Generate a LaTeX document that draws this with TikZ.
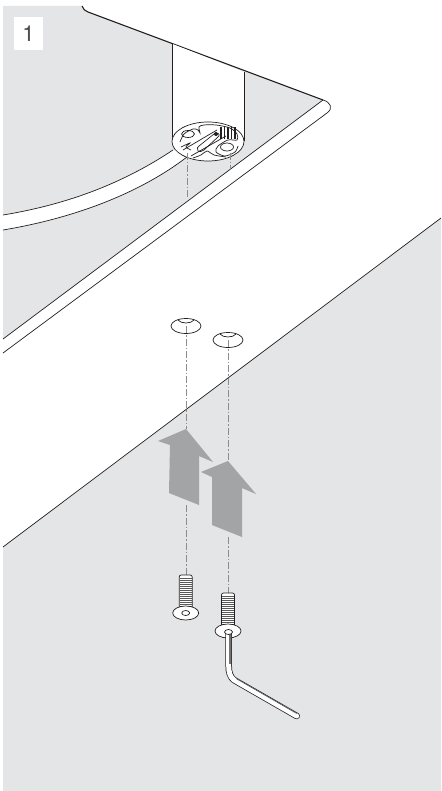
\documentclass[tikz,border=0pt]{standalone}
\usepackage{fontspec}
\setmainfont{TeX Gyre Heros}
\usepackage{xcolor}
\usetikzlibrary{positioning, arrows.meta}
\definecolor{PanelGrey}{HTML}{E4E5E7}
\definecolor{ArrowGrey}{HTML}{A3A4A6}
\definecolor{InkBlack}{HTML}{231F20}
\begin{document}
\begin{tikzpicture}[
            x=1pt, y=-1pt,
            edge/.style={draw=InkBlack, line width=0.7pt},
            heavy/.style={draw=InkBlack, line width=1.1pt},
            axisline/.style={draw=black!45, line width=0.6pt, dash pattern=on 7pt off 2pt on 1.5pt off 2pt},
            numbox/.style={fill=white, text=black!70, font=\fontsize{22}{22}\selectfont, minimum width=29pt, minimum height=33pt, inner sep=0pt},
            liftarrow/.style={fill=ArrowGrey, draw=none},
            thread/.style={draw=black!65, line width=1pt}
        ]
            \useasboundingbox (0,0) rectangle (441,791);

            % Grey panels
            \fill[PanelGrey] (3,6) -- (82,6) .. controls (83,9) and (85,11) .. (88,12) -- (323,100) -- (3,339) -- cycle;
            \fill[PanelGrey] (3,547) -- (441,218) -- (441,791) -- (3,791) -- cycle;
            \draw[edge] (3,547) -- (441,218);

            \node[numbox] (stepnum) at (28.5,33.5) {1};

            % Curved strip
            \fill[white] (3,215) .. controls (70,204) and (125,182) .. (173,150) -- (187,157) .. controls (140,193) and (75,218) .. (3,230) -- cycle;
            \draw[edge] (3,215) .. controls (70,204) and (125,182) .. (173,150);
            \draw[edge] (3,230) .. controls (75,218) and (140,193) .. (187,157);

            % Table edge
            \draw[heavy] (82,6) .. controls (83,9) and (85,11) .. (88,12) -- (323,100);
            \draw[edge] (323,100) .. controls (330,102) and (334,108) .. (327,113) -- (3,353);
            \draw[edge] (323,100) -- (3,339);

            % Leg
            \fill[white] (172.5,44) -- (244,72) -- (244,141) -- (172.5,141) -- cycle;
            \draw[edge] (172.5,44) -- (172.5,141);
            \draw[edge] (244,72) -- (244,141);
            \draw[edge, fill=white] (208,141.5) ellipse [x radius=36, y radius=19.5];

            % Leg fitting
            \draw[edge] plot[smooth] coordinates {(180,142) (184,134) (193,129) (198,130) (200,133) (199,127) (204,125) (216,125) (230,128) (237,134) (237,140) (228,140) (218,146) (216,152) (225,156) (235,152) (238,146)};
            \draw[edge] plot[smooth] coordinates {(181,147) (190,143) (186,147) (191,150)};
            \draw[edge] plot[smooth] coordinates {(193,158) (201,155) (207,151) (214,155) (226,157)};
            \draw[edge] (188,134) ellipse [x radius=6.5, y radius=3.5];
            \draw[edge] (227,147) ellipse [x radius=6.5, y radius=4];
            \draw[edge] (198,151) .. controls (197,148) and (197,147) .. (199,146) -- (214,134) .. controls (217,132) and (220,134) .. (219,136) -- (204,150) .. controls (202,152) and (199,152) .. (198,151);
            \draw[edge] (183,150) -- (217,130);
            \draw[edge] (191,156) -- (226,136);
            \foreach \hx in {221,224.5,228,231.5,235}
                \draw[edge, line width=1.1pt] (\hx,127) -- (\hx,139);
            \fill[InkBlack] (216,134) circle (2pt);

            % Axis lines
            \draw[axisline] (187,153) -- (187,197);
            \draw[axisline] (230.5,153) -- (230.5,170);
            \draw[axisline] (186.5,326) -- (186.5,429);
            \draw[axisline] (228.3,340) -- (228.3,461);
            \draw[axisline] (186,505) -- (186,575);
            \draw[axisline] (228.3,537) -- (228.3,593);

            % Holes
            \foreach \hx/\hy in {186/326, 228/340} {
                \draw[edge] (\hx,\hy) ellipse [x radius=15, y radius=7.5];
                \draw[edge] ({\hx-8},{\hy-6}) .. controls ({\hx-5},{\hy-2}) and ({\hx+5},{\hy-2}) .. ({\hx+8},{\hy-6});
            }

            % Big arrows
            \fill[liftarrow] (186,429) -- (158,441) -- (170,445) -- (169,493) -- (199,505) -- (199,456) -- (213,462) -- cycle;
            \fill[liftarrow] (228,461) -- (201,472) -- (212,477) -- (212,525) -- (242,537) -- (242,488) -- (256,494) -- cycle;

            % Screws
            \foreach \sx/\sy in {185.7/575, 228/593} {
                \draw[edge, fill=white, rounded corners=2pt] ({\sx-6.5},{\sy+34}) -- ({\sx-6.5},\sy) -- ({\sx+6.5},\sy) -- ({\sx+6.5},{\sy+34});
                \foreach \ty in {3,5,...,31}
                    \draw[thread] ({\sx-6},{\sy+\ty}) -- ({\sx+6},{\sy+\ty});
                \draw[edge, fill=white] (\sx,{\sy+38}) ellipse [x radius=13, y radius=7];
            }
            \draw[edge] (185.7,613) ellipse [x radius=4, y radius=2.5];

            % Hex key
            \draw[InkBlack, line width=6.5pt, line cap=round] (228.7,634) -- (228.7,666) .. controls (228.7,672) and (230,677) .. (234,680) -- (296.7,716);
            \draw[white, line width=5pt, line cap=round] (228.7,634) -- (228.7,666) .. controls (228.7,672) and (230,677) .. (234,680) -- (296.7,716);
            \draw[black!55, line width=2pt] (229.5,634) -- (229.5,664);
            \draw[black!70, line width=0.6pt] (236,678.5) -- (296.7,713.5);
            \draw[edge, fill=white] (228.5,632) ellipse [x radius=4, y radius=2.5];
        \end{tikzpicture}
\end{document}
